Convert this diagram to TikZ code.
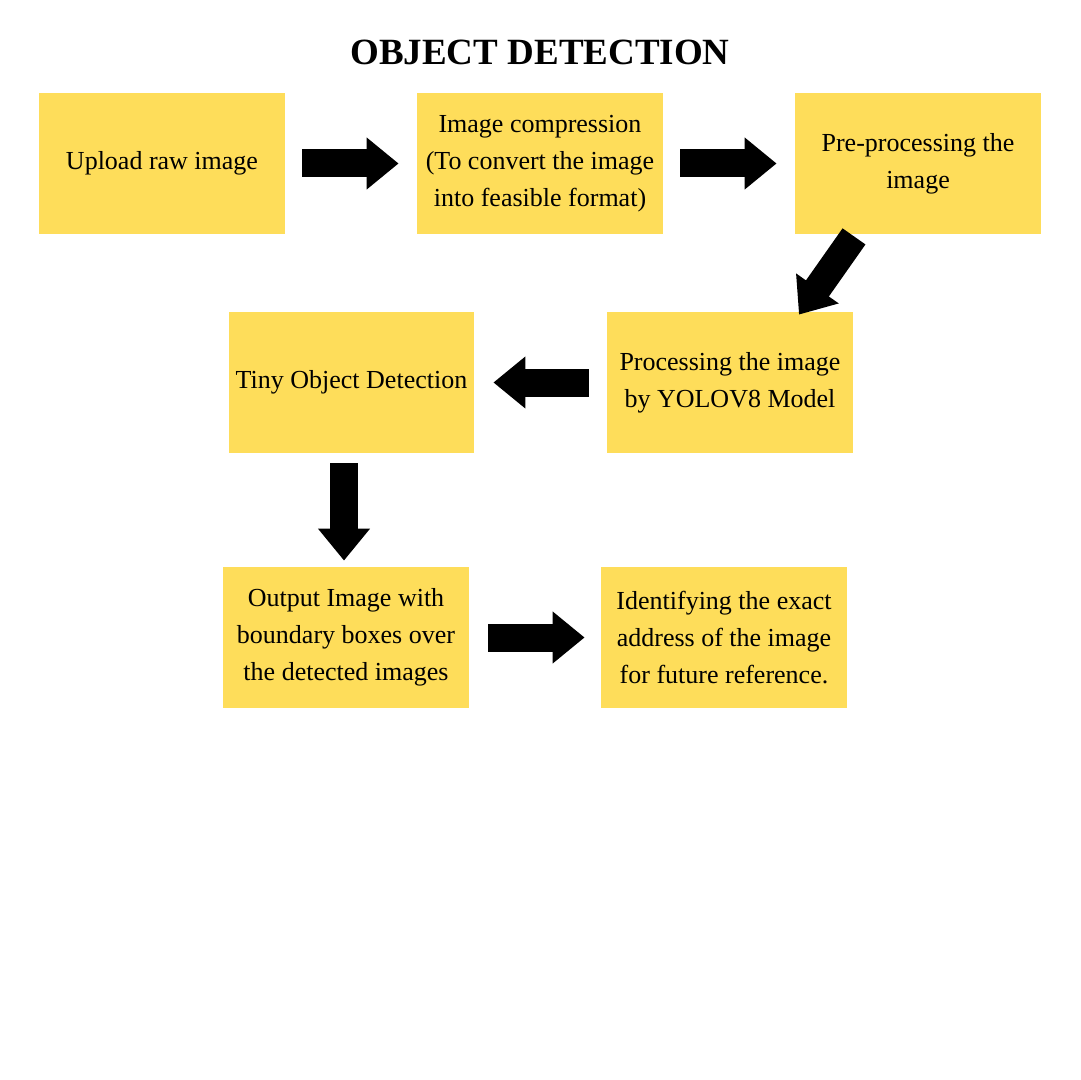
\documentclass[tikz,border=0pt]{standalone}
\usepackage{fontspec}
\setmainfont{Liberation Serif}
\usetikzlibrary{arrows.meta}
\definecolor{boxy}{HTML}{FEDD5A}
\begin{document}
\begin{tikzpicture}[x=0.5pt,y=-0.5pt,
  stepbox/.style={fill=boxy, minimum width=123pt, minimum height=70.5pt, inner sep=0pt, align=center, font=\fontsize{13}{18.5}\selectfont},
  blockarrow/.style={line width=14pt, -{Triangle[length=16pt,width=25pt]}}]
\fill[white] (0,0) rectangle (1080,1080);
\node[font=\fontsize{18.5}{22}\selectfont\bfseries] (title) at (540,52) {OBJECT DETECTION};
\node[stepbox] (b1) at (162,163.5) {Upload raw image};
\node[stepbox] (b2) at (540,163.5) {Image compression\\(To convert the image\\into feasible format)};
\node[stepbox] (b3) at (918,163.5) {Pre-processing the\\image};
\node[stepbox] (b4) at (730,382.5) {Processing the image\\by YOLOV8 Model};
\node[stepbox, minimum width=122.5pt] (b5) at (351.5,382.5) {Tiny Object Detection};
\node[stepbox] (b6) at (346,637.5) {Output Image with\\boundary boxes over\\the detected images};
\node[stepbox] (b7) at (724,637.5) {Identifying the exact\\address of the image\\for future reference.};
\draw[blockarrow] ([xshift=8.5pt]b1.east) -- ([xshift=-9pt]b2.west);
\draw[blockarrow] ([xshift=8.5pt]b2.east) -- ([xshift=-9pt]b3.west);
\draw[blockarrow] ([xshift=-32pt,yshift=-1pt]b3.south) -- ([xshift=34.5pt,yshift=-1.5pt]b4.north);
\draw[blockarrow] ([xshift=-9pt]b4.west) -- ([xshift=9.5pt]b5.east);
\draw[blockarrow] ([xshift=-3.75pt,yshift=-5pt]b5.south) -- ([xshift=-1pt,yshift=3pt]b6.north);
\draw[blockarrow] ([xshift=9.5pt]b6.east) -- ([xshift=-8pt]b7.west);
\end{tikzpicture}
\end{document}
